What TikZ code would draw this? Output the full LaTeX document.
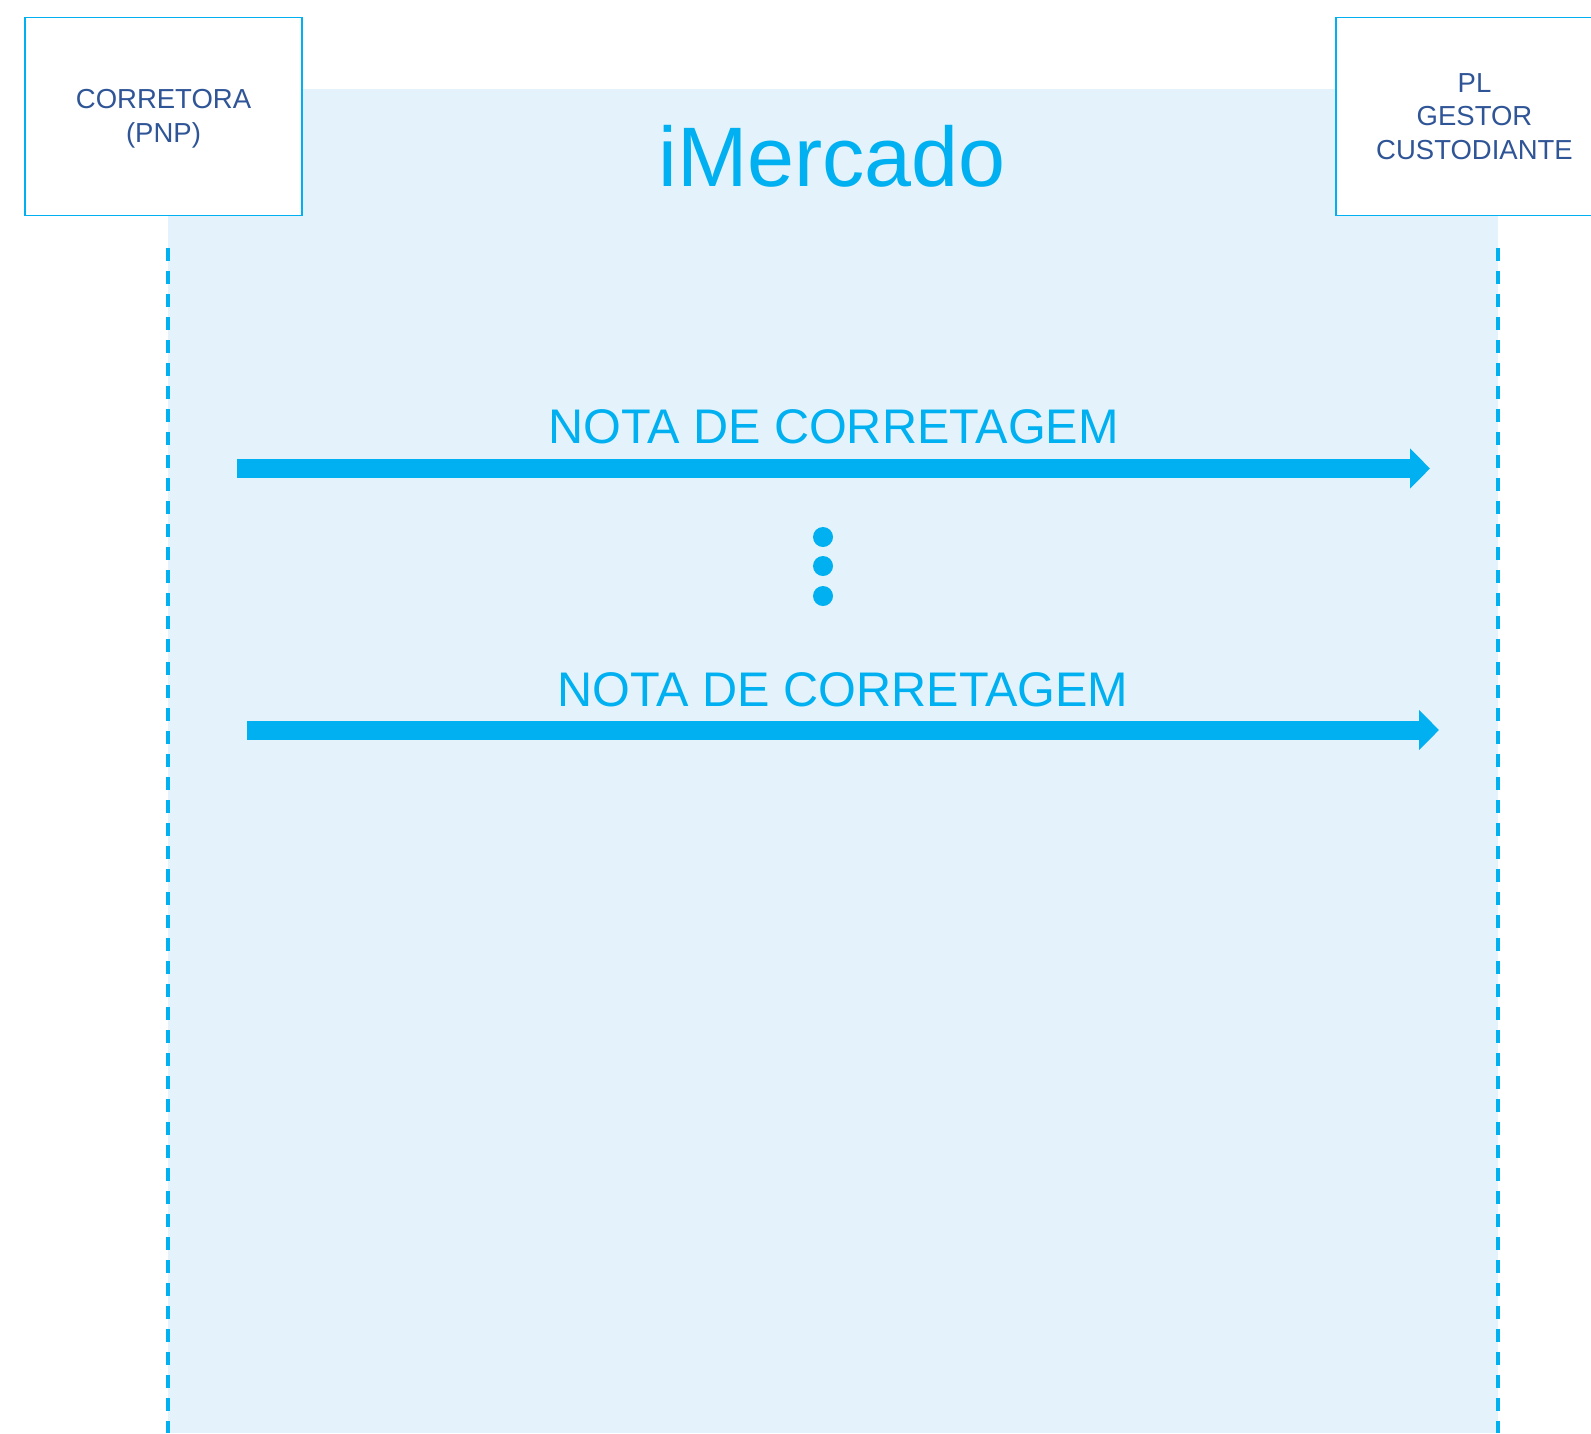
\documentclass[tikz,border=0pt]{standalone}
\usepackage{fontspec}
\setmainfont{Liberation Sans}
\usepackage{tikz}
\usetikzlibrary{arrows.meta,positioning}
\definecolor{mktblue}{RGB}{0,176,240}
\definecolor{mktback}{RGB}{228,243,251}
\definecolor{mktdark}{RGB}{47,85,151}

\begin{document}
\begin{tikzpicture}[x=1pt,y=-1pt]
    \tikzstyle{actor}=[rectangle, draw=mktblue, line width=1.8pt, fill=white, minimum width=277pt, minimum height=198pt, align=center, text=mktdark, font=\fontsize{27.5}{33.5}\selectfont]
    \tikzstyle{lifeline}=[mktblue, line width=3.3pt, dash pattern=on 13pt off 10pt]
    \tikzstyle{message}=[-{Triangle[length=20pt,width=39pt]}, mktblue, line width=19pt]
    \tikzstyle{msglabel}=[text=mktblue, font=\fontsize{48.6}{58}\selectfont, anchor=base, inner sep=0pt]
    \useasboundingbox (0,0) rectangle (1591,1433);
    \clip (0,0) rectangle (1591,1433);
      \fill[mktback] (168,89) rectangle (1498,1433);

      \node[actor] (broker) at (163.5,116.5) {\strut CORRETORA\\(PNP)};
      \node[actor] (custody) at (1474.5,116.5) {PL\\GESTOR\\CUSTODIANTE};
      \node[msglabel, font=\fontsize{84.5}{100}\selectfont] (title) at (832,186) {iMercado};

      \coordinate (brokertop) at (168,248);
      \coordinate (brokerend) at (168,1433);
      \coordinate (custodytop) at (1498,248);
      \coordinate (custodyend) at (1498,1433);
      \path (brokertop) edge [lifeline] (brokerend);
      \path (custodytop) edge [lifeline] (custodyend);

      \coordinate (noteAstart) at (237,468.5);
      \coordinate (noteAend) at (1430,468.5);
      \coordinate (noteBstart) at (247,730);
      \coordinate (noteBend) at (1439,730);
      \draw[message] (noteAstart) -- node[msglabel, midway, yshift=25pt] (noteAlabel) {NOTA DE CORRETAGEM} (noteAend);
      \draw[message] (noteBstart) -- node[msglabel, midway, yshift=24pt] (noteBlabel) {NOTA DE CORRETAGEM} (noteBend);

      \foreach \y in {537,566,596}
        \fill[mktblue] (823,\y) circle (10pt);
    \end{tikzpicture}
\end{document}
